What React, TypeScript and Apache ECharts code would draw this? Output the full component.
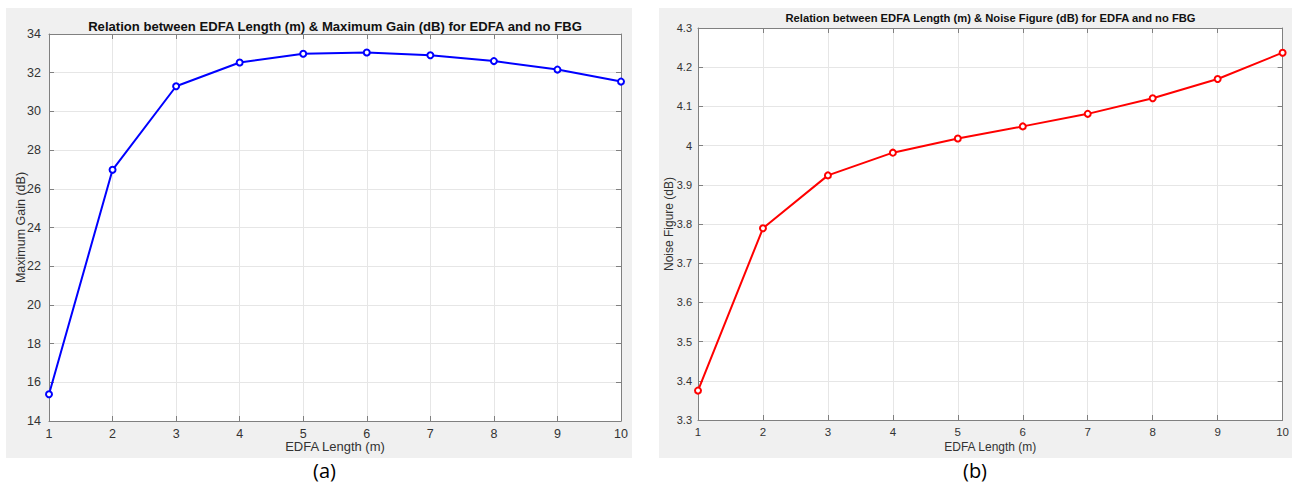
import React, { useEffect, useRef } from "react";
import * as echarts from "echarts";

const lengths = [1, 2, 3, 4, 5, 6, 7, 8, 9, 10];
const maxGain = [15.38, 26.98, 31.3, 32.53, 32.98, 33.04, 32.9, 32.6, 32.16, 31.54];
const noiseFigure = [3.375, 3.789, 3.924, 3.982, 4.018, 4.049, 4.081, 4.121, 4.17, 4.237];
const titleA = "Relation between EDFA Length (m) & Maximum Gain (dB) for EDFA and no FBG";
const titleB = "Relation between EDFA Length (m) & Noise Figure (dB) for EDFA and no FBG";
const xName = "EDFA Length (m)";
const yNameA = "Maximum Gain (dB)";
const yNameB = "Noise Figure (dB)";
const captions = ["(a)", "(b)"];

const AXIS = "#808080";
const GRIDC = "#e6e6e6";
const LABEL = "#333333";
const FONT = "'Liberation Sans', Arial, Helvetica, sans-serif";

export default function App() {
  const ref = useRef<HTMLDivElement>(null);
  useEffect(() => {
    if (!ref.current) return;
    const chart = echarts.init(ref.current, null, { renderer: "svg" });
    const fs = [12.5, 11];
    const xGap = [19, 21];
    const yGap = [22, 23];
    const mkX = (gi: number, top: boolean) => ({
      type: "value",
      gridIndex: gi,
      position: top ? "top" : "bottom",
      min: 1,
      max: 10,
      interval: 1,
      name: top ? "" : xName,
      nameLocation: "middle",
      nameGap: xGap[gi],
      nameMoveOverlap: false,
      nameTextStyle: { color: LABEL, fontSize: gi === 0 ? 13 : 12, fontFamily: FONT },
      axisLine: { show: true, onZero: false, lineStyle: { color: AXIS, width: 1 } },
      axisTick: { show: true, inside: true, length: 5, lineStyle: { color: AXIS } },
      axisLabel: { show: !top, color: LABEL, fontSize: gi === 0 ? 12.5 : 11.5, fontFamily: FONT, margin: 6 },
      splitLine: { show: !top, lineStyle: { color: GRIDC, width: 1 } },
    });
    const mkY = (gi: number, right: boolean) => {
      const isA = gi === 0;
      return {
        type: "value",
        gridIndex: gi,
        position: right ? "right" : "left",
        min: isA ? 14 : 3.3,
        max: isA ? 34 : 4.3,
        interval: isA ? 2 : 0.1,
        name: right ? "" : isA ? yNameA : yNameB,
        nameLocation: "middle",
        nameGap: yGap[gi],
        nameMoveOverlap: false,
        nameTextStyle: { color: LABEL, fontSize: isA ? 12.5 : 12, fontFamily: FONT },
        axisLine: { show: true, onZero: false, lineStyle: { color: AXIS, width: 1 } },
        axisTick: { show: true, inside: true, length: 5, lineStyle: { color: AXIS } },
        axisLabel: {
          show: !right,
          color: LABEL,
          fontSize: fs[gi],
          fontFamily: FONT,
          margin: isA ? 8 : 6,
          formatter: (v: number) => String(+v.toFixed(1)),
        },
        splitLine: { show: !right, lineStyle: { color: GRIDC, width: 1 } },
      };
    };
    chart.setOption({
      animation: false,
      backgroundColor: "#ffffff",
      graphic: [
        { type: "rect", z: -100, silent: true, shape: { x: 6, y: 8, width: 626, height: 450 }, style: { fill: "#f0f0f0" } },
        { type: "rect", z: -100, silent: true, shape: { x: 659, y: 8, width: 633, height: 450 }, style: { fill: "#f0f0f0" } },
        {
          type: "text", x: 324.5, y: 470,
          style: { text: captions[0], font: "20px 'Open Sans', 'Noto Sans', sans-serif", fill: "#000", textAlign: "center", textVerticalAlign: "middle" },
        },
        {
          type: "text", x: 975, y: 470,
          style: { text: captions[1], font: "20px 'Open Sans', 'Noto Sans', sans-serif", fill: "#000", textAlign: "center", textVerticalAlign: "middle" },
        },
      ],
      title: [
        {
          text: titleA, left: 335, top: 19.5, textAlign: "center", padding: 0,
          textStyle: { fontSize: 13.1, fontWeight: "bold", color: "#111", fontFamily: FONT },
        },
        {
          text: titleB, left: 990.5, top: 12.3, textAlign: "center", padding: 0,
          textStyle: { fontSize: 11.2, fontWeight: "bold", color: "#111", fontFamily: FONT },
        },
      ],
      grid: [
        { left: 49, top: 34, width: 572, height: 387, show: true, backgroundColor: "#ffffff", borderWidth: 0 },
        { left: 698, top: 28, width: 585, height: 392, show: true, backgroundColor: "#ffffff", borderWidth: 0 },
      ],
      xAxis: [mkX(0, false), mkX(0, true), mkX(1, false), mkX(1, true)],
      yAxis: [mkY(0, false), mkY(0, true), mkY(1, false), mkY(1, true)],
      series: [
        {
          type: "line",
          xAxisIndex: 0,
          yAxisIndex: 0,
          data: lengths.map((x, i) => [x, maxGain[i]]),
          symbol: "emptyCircle",
          symbolSize: 6,
          color: "#0000ff",
          lineStyle: { color: "#0000ff", width: 2 },
          itemStyle: { color: "#0000ff", borderWidth: 1.5 },
        },
        {
          type: "line",
          xAxisIndex: 2,
          yAxisIndex: 2,
          data: lengths.map((x, i) => [x, noiseFigure[i]]),
          symbol: "emptyCircle",
          symbolSize: 6,
          color: "#ff0000",
          lineStyle: { color: "#ff0000", width: 2 },
          itemStyle: { color: "#ff0000", borderWidth: 1.5 },
        },
      ],
    });
    return () => chart.dispose();
  }, []);
  return (
    <div
      ref={ref}
      style={{ position: "fixed", left: 0, top: 0, width: 1292, height: 491 }}
    />
  );
}
